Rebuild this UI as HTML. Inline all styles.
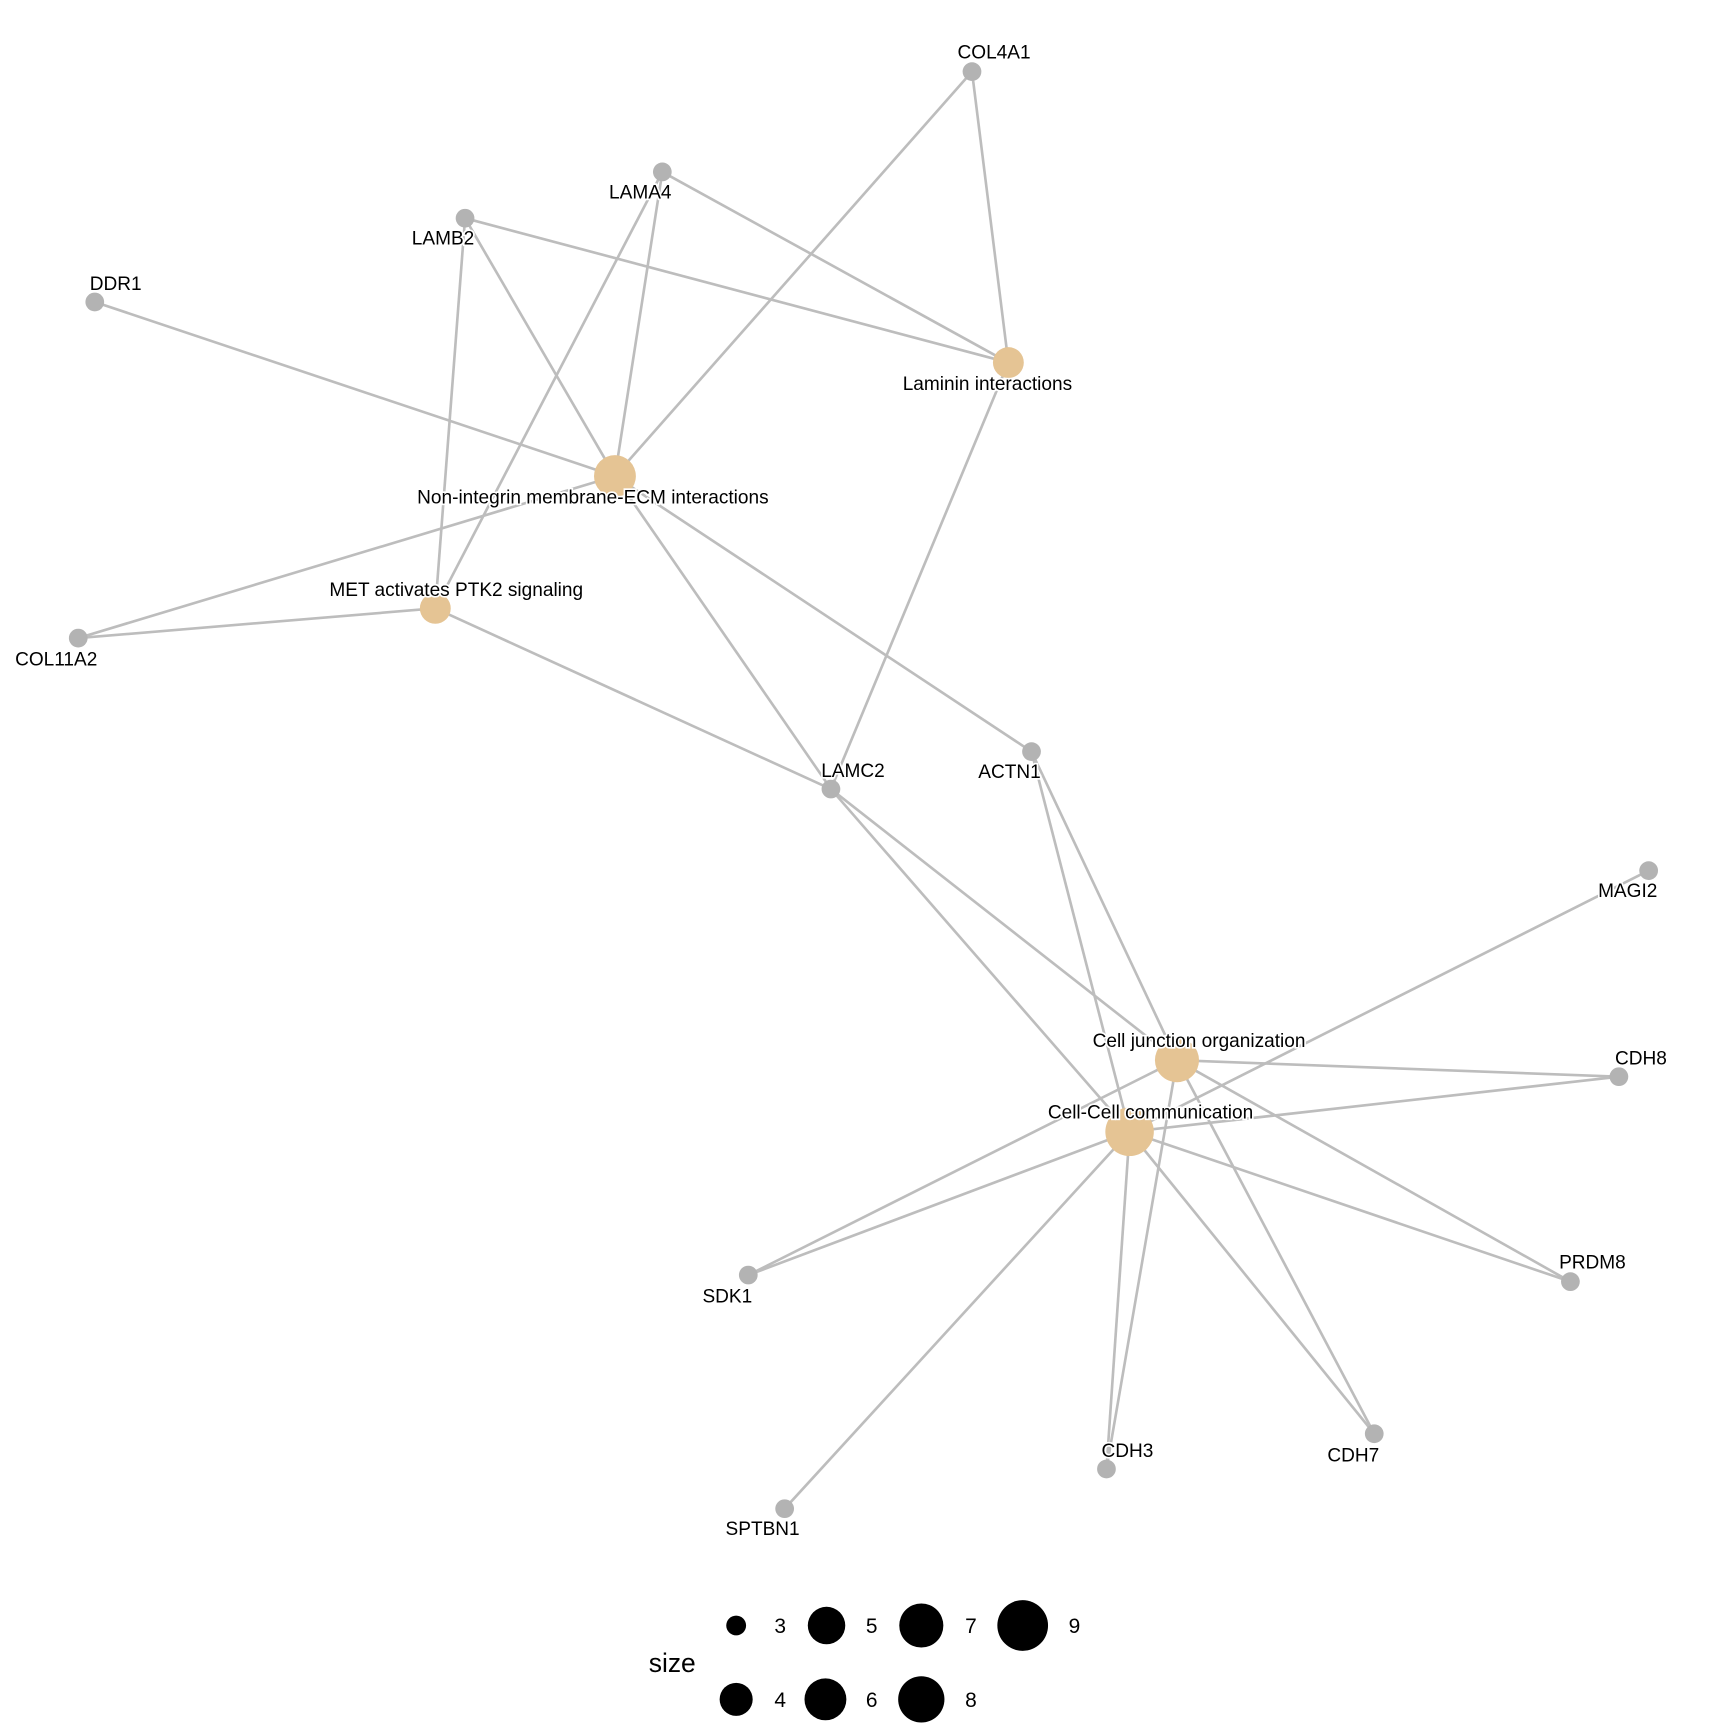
<!DOCTYPE html>
<html><head><meta charset="utf-8"><style>html,body{margin:0;padding:0;background:#fff}svg{display:block}</style></head>
<body>
<svg width="1728" height="1728" viewBox="0 0 1568 1568" xmlns="http://www.w3.org/2000/svg" font-family="Liberation Sans, sans-serif">
<rect width="1568" height="1568" fill="#fff"/>
<g stroke="#bdbdbd" stroke-width="2.4" fill="none">
<line x1="882" y1="65" x2="915" y2="329"/>
<line x1="882" y1="65" x2="558" y2="432"/>
<line x1="601" y1="156" x2="915" y2="329"/>
<line x1="601" y1="156" x2="558" y2="432"/>
<line x1="601" y1="156" x2="395" y2="552"/>
<line x1="422" y1="198" x2="915" y2="329"/>
<line x1="422" y1="198" x2="558" y2="432"/>
<line x1="422" y1="198" x2="395" y2="552"/>
<line x1="86" y1="274" x2="558" y2="432"/>
<line x1="71" y1="579" x2="558" y2="432"/>
<line x1="71" y1="579" x2="395" y2="552"/>
<line x1="915" y1="329" x2="754" y2="716"/>
<line x1="558" y1="432" x2="754" y2="716"/>
<line x1="558" y1="432" x2="936" y2="682"/>
<line x1="395" y1="552" x2="754" y2="716"/>
<line x1="754" y1="716" x2="1068" y2="962"/>
<line x1="754" y1="716" x2="1025" y2="1027"/>
<line x1="936" y1="682" x2="1068" y2="962"/>
<line x1="936" y1="682" x2="1025" y2="1027"/>
<line x1="1496" y1="790" x2="1025" y2="1027"/>
<line x1="1469" y1="977" x2="1068" y2="962"/>
<line x1="1469" y1="977" x2="1025" y2="1027"/>
<line x1="679" y1="1157" x2="1068" y2="962"/>
<line x1="679" y1="1157" x2="1025" y2="1027"/>
<line x1="1425" y1="1163" x2="1068" y2="962"/>
<line x1="1425" y1="1163" x2="1025" y2="1027"/>
<line x1="1247" y1="1301" x2="1068" y2="962"/>
<line x1="1247" y1="1301" x2="1025" y2="1027"/>
<line x1="1004" y1="1333" x2="1068" y2="962"/>
<line x1="1004" y1="1333" x2="1025" y2="1027"/>
<line x1="712" y1="1369" x2="1025" y2="1027"/>
</g>
<g fill="#b3b3b3">
<circle cx="882" cy="65" r="8.5"/><circle cx="601" cy="156" r="8.5"/><circle cx="422" cy="198" r="8.5"/>
<circle cx="86" cy="274" r="8.5"/><circle cx="71" cy="579" r="8.5"/><circle cx="754" cy="716" r="8.5"/>
<circle cx="936" cy="682" r="8.5"/><circle cx="1496" cy="790" r="8.5"/><circle cx="1469" cy="977" r="8.5"/>
<circle cx="679" cy="1157" r="8.5"/><circle cx="1425" cy="1163" r="8.5"/><circle cx="1247" cy="1301" r="8.5"/>
<circle cx="1004" cy="1333" r="8.5"/><circle cx="712" cy="1369" r="8.5"/>
</g>
<g fill="#E5C494">
<circle cx="915" cy="329" r="14"/><circle cx="558" cy="432" r="19"/><circle cx="395" cy="552" r="14"/>
<circle cx="1068" cy="962" r="20"/><circle cx="1025" cy="1027" r="22"/>
</g>
<g font-size="17.3" fill="#000" text-anchor="middle" stroke="#fff" stroke-width="3" paint-order="stroke">
<text x="902" y="53">COL4A1</text>
<text x="581" y="180">LAMA4</text>
<text x="402" y="222">LAMB2</text>
<text x="105" y="263">DDR1</text>
<text x="896" y="354">Laminin interactions</text>
<text x="538" y="457">Non-integrin membrane-ECM interactions</text>
<text x="414" y="541">MET activates PTK2 signaling</text>
<text x="51" y="604">COL11A2</text>
<text x="774" y="705">LAMC2</text>
<text x="916" y="706">ACTN1</text>
<text x="1477" y="814">MAGI2</text>
<text x="1088" y="950">Cell junction organization</text>
<text x="1489" y="966">CDH8</text>
<text x="1044" y="1015">Cell-Cell communication</text>
<text x="660" y="1182">SDK1</text>
<text x="1445" y="1151">PRDM8</text>
<text x="1228" y="1326">CDH7</text>
<text x="1023" y="1322">CDH3</text>
<text x="692" y="1393">SPTBN1</text>
</g>
<g fill="#000">
<circle cx="668" cy="1475" r="9"/><circle cx="750" cy="1475" r="17"/><circle cx="836" cy="1475" r="20"/><circle cx="928" cy="1475" r="23"/>
<circle cx="668" cy="1542" r="15"/><circle cx="749" cy="1542" r="19"/><circle cx="836" cy="1542" r="21"/>
</g>
<g font-size="19" fill="#000" text-anchor="middle">
<text x="708" y="1482">3</text><text x="791" y="1482">5</text><text x="881" y="1482">7</text><text x="975" y="1482">9</text>
<text x="708" y="1549">4</text><text x="791" y="1549">6</text><text x="881" y="1549">8</text>
</g>
<text x="610" y="1517" font-size="24" text-anchor="middle" fill="#000">size</text>
</svg>
</body></html>
